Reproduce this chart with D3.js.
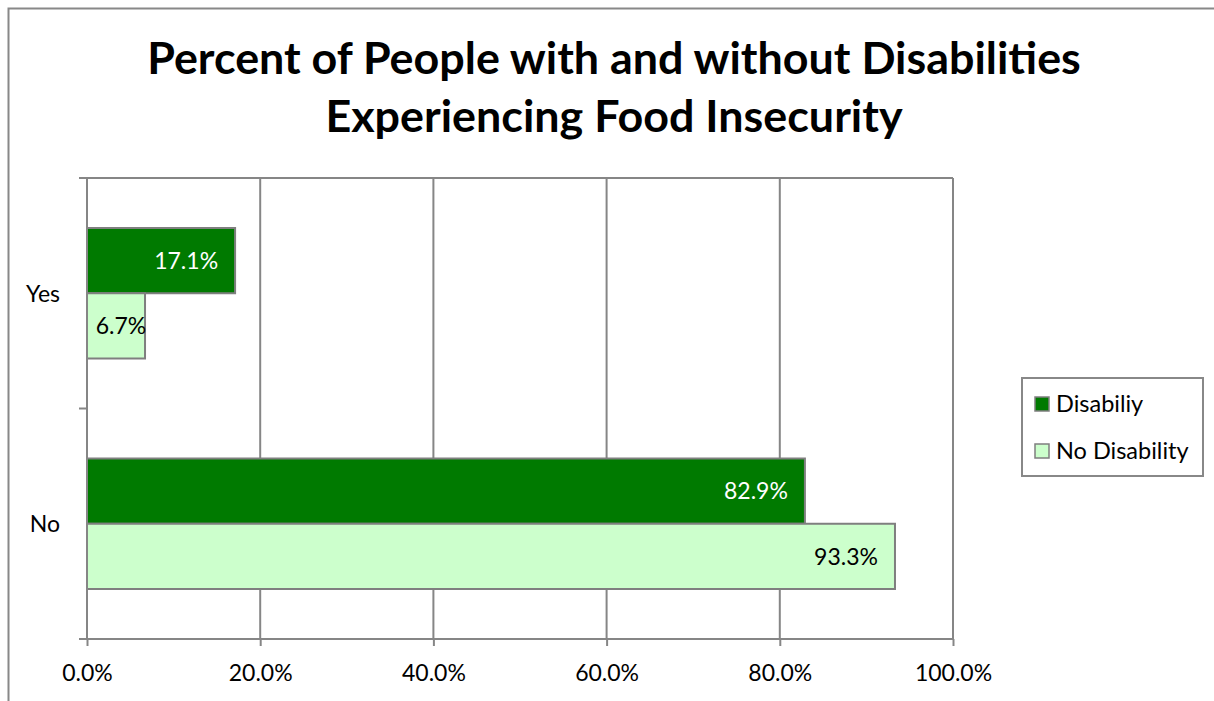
<!DOCTYPE html>
<html>
<head>
<meta charset="utf-8">
<script src="https://cdn.jsdelivr.net/npm/d3@7"></script>
<style>
  html, body { margin: 0; padding: 0; background: #fff; overflow: hidden; }
  svg { display: block; }
  text { font-family: Lato, "Open Sans", sans-serif; }
</style>
</head>
<body>
<script>
const categories = ["Yes", "No"];
const seriesNames = ["Disabiliy", "No Disability"];
const disabilityValues = [17.1, 82.9];
const noDisabilityValues = [6.7, 93.3];
const xTicks = [0, 20, 40, 60, 80, 100];
const titleLines = ["Percent of People with and without Disabilities", "Experiencing Food Insecurity"];
const colors = ["#007a00", "#ccffcc"];
const labelColors = ["#ffffff", "#000000"];

(function () {
const W = 1214, H = 701;
const svg = d3.select("body").append("svg").attr("width", W).attr("height", H);

svg.append("rect").attr("x", 8.5).attr("y", 8.5).attr("width", W + 20).attr("height", H + 20)
  .attr("fill", "#fff").attr("stroke", "#888").attr("stroke-width", 2);

// title
const title = svg.append("g");
titleLines.forEach((t, i) => {
  title.append("text").attr("x", 614).attr("y", 74 + i * 58)
    .attr("text-anchor", "middle").attr("font-weight", "bold")
    .attr("font-size", 40).attr("fill", "#000").text(t);
});
const tl = title.select("text").node();
const fs = 40 * 934 / tl.getComputedTextLength();
title.selectAll("text").attr("font-size", fs);

const pLeft = 87, pRight = 953, pTop = 178, pBottom = 639;
const x = d3.scaleLinear().domain([0, 100]).range([pLeft, pRight]);
const y = d3.scaleBand().domain(categories).range([pTop, pBottom]);
const inner = d3.scaleBand().domain(seriesNames).range([50, y.bandwidth() - 50]);

const gridColor = "#868686";

svg.append("g").selectAll("line").data(xTicks).join("line")
  .attr("x1", d => x(d)).attr("x2", d => x(d)).attr("y1", pTop).attr("y2", pBottom)
  .attr("stroke", gridColor).attr("stroke-width", 2);

svg.append("line").attr("x1", pLeft - 8).attr("x2", pRight).attr("y1", pTop).attr("y2", pTop)
  .attr("stroke", gridColor).attr("stroke-width", 2);

const data = [];
categories.forEach((c, i) => {
  data.push({ cat: c, s: 0, v: disabilityValues[i] });
  data.push({ cat: c, s: 1, v: noDisabilityValues[i] });
});

svg.append("g").selectAll("rect").data(data).join("rect")
  .attr("x", x(0)).attr("y", d => y(d.cat) + inner(seriesNames[d.s]))
  .attr("width", d => x(d.v) - x(0)).attr("height", inner.bandwidth())
  .attr("fill", d => colors[d.s]).attr("stroke", "#7f7f7f").attr("stroke-width", 2);

const lbl = svg.append("g").selectAll("text").data(data).join("text")
  .attr("y", d => y(d.cat) + inner(seriesNames[d.s]) + inner.bandwidth() / 2)
  .attr("dy", "0.36em").attr("font-size", 23)
  .attr("fill", d => labelColors[d.s])
  .text(d => d.v.toFixed(1) + "%");
lbl.each(function (d) {
  const w = this.getComputedTextLength();
  const bw = x(d.v) - x(0);
  const t = d3.select(this);
  if (bw < w + 30) {
    t.attr("text-anchor", "middle").attr("x", x(0) + bw / 2 + 5);
  } else {
    t.attr("text-anchor", "end").attr("x", x(d.v) - 17);
  }
});

const xAxis = d3.axisBottom(x).tickValues(xTicks).tickSize(7).tickPadding(19)
  .tickFormat(d => d.toFixed(1) + "%");
const gx = svg.append("g").attr("transform", `translate(0,${pBottom})`).call(xAxis);
gx.select(".domain").remove();
gx.selectAll(".tick line").attr("stroke", gridColor).attr("stroke-width", 2);
gx.selectAll(".tick text").attr("font-size", 23).attr("fill", "#000")
  .attr("font-family", "Lato, sans-serif");
svg.append("line").attr("x1", pLeft - 8).attr("x2", pRight).attr("y1", pBottom).attr("y2", pBottom)
  .attr("stroke", gridColor).attr("stroke-width", 2);

const yBounds = [pTop, ...categories.slice(1).map(c => y(c)), pBottom];
svg.append("g").selectAll("line").data(yBounds).join("line")
  .attr("x1", pLeft - 8).attr("x2", pLeft).attr("y1", d => d).attr("y2", d => d)
  .attr("stroke", gridColor).attr("stroke-width", 2);
svg.append("line").attr("x1", pLeft).attr("x2", pLeft).attr("y1", pTop).attr("y2", pBottom)
  .attr("stroke", gridColor).attr("stroke-width", 2);
svg.append("g").selectAll("text").data(categories).join("text")
  .attr("x", 60).attr("y", d => y(d) + y.bandwidth() / 2)
  .attr("dy", "0.36em").attr("text-anchor", "end").attr("font-size", 23).attr("fill", "#000")
  .text(d => d);

const lg = svg.append("g");
lg.append("rect").attr("x", 1022).attr("y", 378).attr("width", 181).attr("height", 98)
  .attr("fill", "#fff").attr("stroke", "#888").attr("stroke-width", 2);
seriesNames.forEach((s, i) => {
  const cy = 404 + i * 47;
  lg.append("rect").attr("x", 1035).attr("y", cy - 7).attr("width", 14).attr("height", 14)
    .attr("fill", colors[i]).attr("stroke", "#7f7f7f").attr("stroke-width", 1.5);
  lg.append("text").attr("x", 1056).attr("y", cy).attr("dy", "0.36em")
    .attr("font-size", 23.5).attr("fill", "#000").text(s);
});
})();
</script>
</body>
</html>
